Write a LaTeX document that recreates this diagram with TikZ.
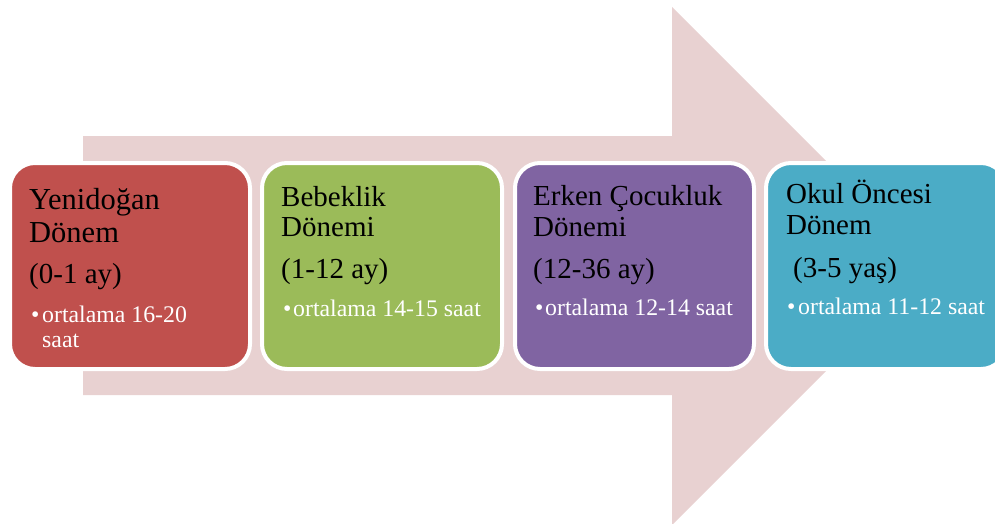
\documentclass[tikz,border=0pt]{standalone}
\usepackage{fontspec}
\setmainfont{Liberation Serif}
\definecolor{arrowc}{RGB}{232,209,209}
\definecolor{cA}{RGB}{192,80,77}
\definecolor{cB}{RGB}{155,187,89}
\definecolor{cC}{RGB}{128,100,162}
\definecolor{cD}{RGB}{75,172,198}
\begin{document}
\begin{tikzpicture}[x=1pt,y=-1pt,
  box/.style={draw=white,line width=4pt,rounded corners=25pt},
  ttl/.style={anchor=base west,inner sep=0pt,font=\fontsize{29}{30}\selectfont,text=black},
  ttlA/.style={anchor=base west,inner sep=0pt,font=\fontsize{30.5}{31}\selectfont,text=black},
  bul/.style={anchor=base west,inner sep=0pt,font=\fontsize{23.8}{25}\selectfont,text=white}]
\useasboundingbox (0,0) rectangle (995,524);
\clip (0,0) rectangle (995,524);
% big background arrow
\fill[arrowc] (83,136) -- (672,136) -- (672,7) -- (931,266) -- (672,525) -- (672,395) -- (83,395) -- cycle;
% boxes
\path[box,fill=cA] (10,163) rectangle (250,369);
\path[box,fill=cB] (262,163) rectangle (502,369);
\path[box,fill=cC] (515,163) rectangle (754,369);
\path[box,fill=cD] (766,163) rectangle (1006,369);
% box 1
\node[ttlA] (a1) at (29,209) {Yenidoğan};
\node[ttlA] (a2) at (29,242) {Dönem};
\node[ttl]  (a3) at (29,283) {(0-1 ay)};
\node[bul]  (ab) at (31,322) {•};
\node[bul]  (a4) at (42,322) {ortalama 16-20};
\node[bul]  (a5) at (42,347) {saat};
% box 2
\node[ttl] (b1) at (281,206) {Bebeklik};
\node[ttl] (b2) at (281,236) {Dönemi};
\node[ttl] (b3) at (281,278) {(1-12 ay)};
\node[bul] (bb) at (283,316) {•};
\node[bul] (b4) at (293,316) {ortalama 14-15 saat};
% box 3
\node[ttl] (c1) at (533,205) {Erken Çocukluk};
\node[ttl] (c2) at (533,236) {Dönemi};
\node[ttl] (c3) at (533,278) {(12-36 ay)};
\node[bul] (cb) at (535,315) {•};
\node[bul] (c4) at (545,315) {ortalama 12-14 saat};
% box 4
\node[ttl] (d1) at (786,203) {Okul Öncesi};
\node[ttl] (d2) at (786,234) {Dönem};
\node[ttl] (d3) at (793,277) {(3-5 yaş)};
\node[bul] (db) at (787,314) {•};
\node[bul] (d4) at (798,314) {ortalama 11-12 saat};
\end{tikzpicture}
\end{document}
